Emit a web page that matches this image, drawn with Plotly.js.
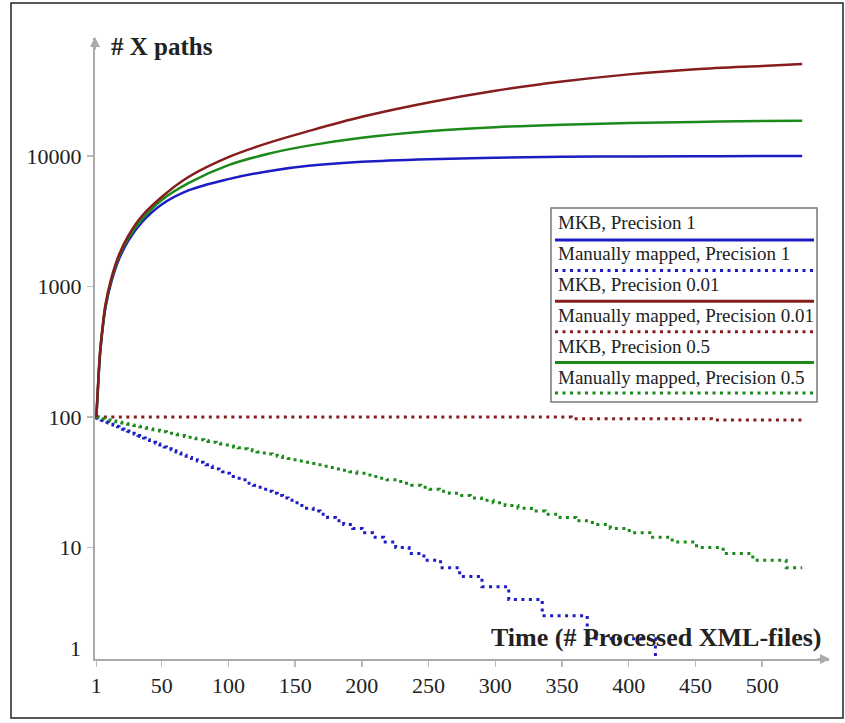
<!DOCTYPE html>
<html><head><meta charset="utf-8">
<script src="https://cdn.plot.ly/plotly-3.0.1.min.js"></script>
<style>html,body{margin:0;padding:0;background:#fff;}#chart{width:845px;height:723px;}</style>
</head><body><div id="chart"></div>
<script>
// ---- data ----
const seriesNames = ["MKB, Precision 1", "Manually mapped, Precision 1",
  "MKB, Precision 0.01", "Manually mapped, Precision 0.01",
  "MKB, Precision 0.5", "Manually mapped, Precision 0.5"];
const seriesColors = ["#1c1cc4", "#1c1cc4", "#861c1c", "#861c1c", "#1b8a1b", "#1b8a1b"];
const seriesDotted = [false, true, false, true, false, true];

// MKB curves (sampled)
const xMkb = [1, 2, 3, 4, 6, 8, 12, 18, 25, 35, 50, 70, 100, 130, 160, 200, 250, 300, 350, 400, 450, 500, 530];
const mkbP1   = [100, 150, 230, 320, 500, 700, 1060, 1620, 2250, 3100, 4250, 5450, 6650, 7650, 8400, 9020, 9450, 9700, 9850, 9920, 9960, 9980, 9990];
const mkbP001 = [100, 155, 240, 335, 525, 740, 1130, 1750, 2450, 3450, 4850, 6900, 9800, 12600, 15500, 19950, 25700, 31600, 37150, 42200, 46200, 49000, 50700];
const mkbP05  = [100, 153, 235, 330, 515, 725, 1100, 1700, 2350, 3250, 4600, 6200, 8500, 10400, 12000, 13800, 15500, 16630, 17380, 17860, 18240, 18500, 18620];

// Manually mapped curves: x at which the count drops to the next value
const xManP1 = [1, 1.2, 1.5, 2.5, 3.6, 4.6, 5.7, 6.7, 7.8, 8.9, 10.0, 11.1, 12.2, 13.4, 14.5, 15.7, 16.8, 18.0, 19.2, 20.5,
  21.7, 22.9, 24.2, 25.5, 26.8, 28.1, 29.4, 30.8, 32.2, 33.5, 35.0, 36.4, 37.8, 39.3, 40.8, 42.3, 43.8, 45.4, 47.0, 48.6,
  50.3, 51.9, 53.6, 55.3, 57.1, 58.9, 60.7, 62.6, 64.4, 66.4, 68.3, 70.3, 72.4, 74.4, 76.6, 78.8, 81.0, 83.2, 85.6, 87.9,
  90.4, 92.9, 95.5, 98.1, 100.8, 103.6, 106.4, 109.4, 112.4, 115.5, 118.7, 122.1, 125.5, 129.1, 132.8, 136.6, 140.6, 144.8, 149.2, 153.7,
  158.5, 163.5, 168.7, 174.3, 180.2, 186.4, 193.1, 200.2, 207.9, 216.3, 225.4, 235.4, 246.5, 259, 273.3, 290, 310.1, 335.2, 368.9, 420, 530];
const manP1 = [100, 99, 98, 97, 96, 95, 94, 93, 92, 91, 90, 89, 88, 87, 86, 85, 84, 83, 82, 81,
  80, 79, 78, 77, 76, 75, 74, 73, 72, 71, 70, 69, 68, 67, 66, 65, 64, 63, 62, 61,
  60, 59, 58, 57, 56, 55, 54, 53, 52, 51, 50, 49, 48, 47, 46, 45, 44, 43, 42, 41,
  40, 39, 38, 37, 36, 35, 34, 33, 32, 31, 30, 29, 28, 27, 26, 25, 24, 23, 22, 21,
  20, 19, 18, 17, 16, 15, 14, 13, 12, 11, 10, 9, 8, 7, 6, 5, 4, 3, 2, 1, 1];
const xManP001 = [1, 357, 462, 530];
const manP001  = [100, 97, 95, 95];
const xManP05 = [1, 2.4, 3, 5, 7.2, 9.2, 11.4, 13.4, 15.6, 17.8, 20.0, 22.2, 24.4, 26.8, 29.0, 31.4, 33.6, 36.0, 38.4, 41.0,
  43.4, 45.8, 48.4, 51.0, 53.6, 56.2, 58.8, 61.6, 64.4, 67.0, 70.0, 72.8, 75.6, 78.6, 81.6, 84.6, 87.6, 90.8, 94.0, 97.2,
  100.6, 103.8, 107.2, 110.6, 114.2, 117.8, 121.4, 125.2, 128.8, 132.8, 136.6, 140.6, 144.8, 148.8, 153.2, 157.6, 162.0, 166.4, 171.2, 175.8,
  180.8, 185.8, 191.0, 196.2, 201.6, 207.2, 212.8, 218.8, 224.8, 231.0, 237.4, 244.2, 251.0, 258.2, 265.6, 273.2, 281.2, 289.6, 298.4, 307.4,
  317.0, 327.0, 337.4, 348.6, 360.4, 372.8, 386.2, 400.4, 415.8, 432.6, 450.8, 470.8, 493.0, 518.0, 530];
const manP05 = [100, 99, 98, 97, 96, 95, 94, 93, 92, 91, 90, 89, 88, 87, 86, 85, 84, 83, 82, 81,
  80, 79, 78, 77, 76, 75, 74, 73, 72, 71, 70, 69, 68, 67, 66, 65, 64, 63, 62, 61,
  60, 59, 58, 57, 56, 55, 54, 53, 52, 51, 50, 49, 48, 47, 46, 45, 44, 43, 42, 41,
  40, 39, 38, 37, 36, 35, 34, 33, 32, 31, 30, 29, 28, 27, 26, 25, 24, 23, 22, 21,
  20, 19, 18, 17, 16, 15, 14, 13, 12, 11, 10, 9, 8, 7, 7];

const xTickVals = [1, 50, 100, 150, 200, 250, 300, 350, 400, 450, 500];
const yTickVals = [10, 100, 1000, 10000];
const yAxisTitle = "# X paths";
const xAxisTitle = "Time (# Processed XML-files)";

// ---- layout helpers ----
const W = 845, H = 723, PL = 95, PR = 16, PT = 38, PB = 64;
const PW = W - PL - PR, PH = H - PT - PB;
const px = x => (x - PL) / PW;
const py = y => (PT + PH - y) / PH;
const FONT = "Liberation Serif, Times New Roman, serif";
const DOT = "3px,4.5px";

const xs = [xMkb, xManP1, xMkb, xManP001, xMkb, xManP05];
const ys = [mkbP1, manP1, mkbP001, manP001, mkbP05, manP05];
const order = [1, 3, 5, 0, 4, 2];
const traces = order.map(i => ({
  type: "scatter", mode: "lines", name: seriesNames[i], x: xs[i], y: ys[i],
  showlegend: false, hoverinfo: "skip",
  line: seriesDotted[i]
    ? {color: seriesColors[i], width: 3, dash: DOT, shape: "hv"}
    : {color: seriesColors[i], width: 2.5, shape: "spline", smoothing: 1}
}));

const shapes = [];
const annotations = [];
// outer frame
shapes.push({type: "rect", xref: "paper", yref: "paper", x0: px(11), x1: px(843), y0: py(718), y1: py(3),
  line: {color: "#222", width: 1.5}, fillcolor: "rgba(0,0,0,0)", layer: "below"});
// legend box
shapes.push({type: "rect", xref: "paper", yref: "paper", x0: px(551), x1: px(817), y0: py(402), y1: py(208),
  line: {color: "#777", width: 1.5}, fillcolor: "#fff", layer: "above"});
seriesNames.forEach((name, i) => {
  annotations.push({xref: "paper", yref: "paper", x: px(556), y: py(222 + i * 31.1), xanchor: "left", yanchor: "middle",
    text: name, showarrow: false, font: {family: FONT, size: 19, color: "#222"}});
  const ly = py(240 + i * 30.6);
  shapes.push({type: "line", xref: "paper", yref: "paper", x0: px(555), x1: px(814), y0: ly, y1: ly,
    line: {color: seriesColors[i], width: 3, dash: seriesDotted[i] ? DOT : "solid"}, layer: "above"});
});
// axis titles
annotations.push({xref: "paper", yref: "paper", x: px(109), y: py(47), xanchor: "left", yanchor: "middle",
  text: "<b>" + yAxisTitle + "</b>", showarrow: false, font: {family: FONT, size: 25, color: "#222"}});
annotations.push({xref: "paper", yref: "paper", x: px(823), y: py(637), xanchor: "right", yanchor: "middle",
  text: "<b>" + xAxisTitle + "</b>", showarrow: false, font: {family: FONT, size: 26, color: "#222"}});
// the "1" label on the y axis
annotations.push({xref: "paper", yref: "paper", x: px(83), y: py(648), xanchor: "right", yanchor: "middle",
  text: "1", showarrow: false, font: {family: FONT, size: 22, color: "#222"}});
// axis arrowheads
annotations.push({xref: "paper", yref: "paper", x: px(830), y: 0, ax: -14, ay: 0, text: "", showarrow: true,
  arrowhead: 2, arrowsize: 1, arrowwidth: 2, arrowcolor: "#aaa"});
annotations.push({xref: "paper", yref: "paper", x: 0, y: py(37), ax: 0, ay: 14, text: "", showarrow: true,
  arrowhead: 2, arrowsize: 1, arrowwidth: 2, arrowcolor: "#aaa"});

const layout = {
  width: W, height: H,
  margin: {l: PL, r: PR, t: PT, b: PB, pad: 0},
  paper_bgcolor: "#fff", plot_bgcolor: "#fff",
  showlegend: false,
  font: {family: FONT, size: 22, color: "#222"},
  xaxis: {range: [0, PW / 1.3343], tickvals: xTickVals, ticktext: xTickVals.map(String),
    showline: true, linecolor: "#aaa", linewidth: 2, ticks: "outside", ticklen: 6, tickwidth: 1.5, tickcolor: "#bbb",
    showgrid: false, zeroline: false, tickfont: {family: FONT, size: 22, color: "#222"}, ticklabelstandoff: 0, fixedrange: true},
  yaxis: {type: "log", range: [0.1456, 4.904], tickvals: yTickVals, ticktext: yTickVals.map(String),
    showline: true, linecolor: "#aaa", linewidth: 2, ticks: "outside", ticklen: 6, tickwidth: 1.5, tickcolor: "#bbb",
    showgrid: false, zeroline: false, tickfont: {family: FONT, size: 22, color: "#222"}, ticklabelstandoff: 1, fixedrange: true},
  shapes: shapes,
  annotations: annotations
};
Plotly.newPlot("chart", traces, layout, {staticPlot: true});
</script>
</body></html>
